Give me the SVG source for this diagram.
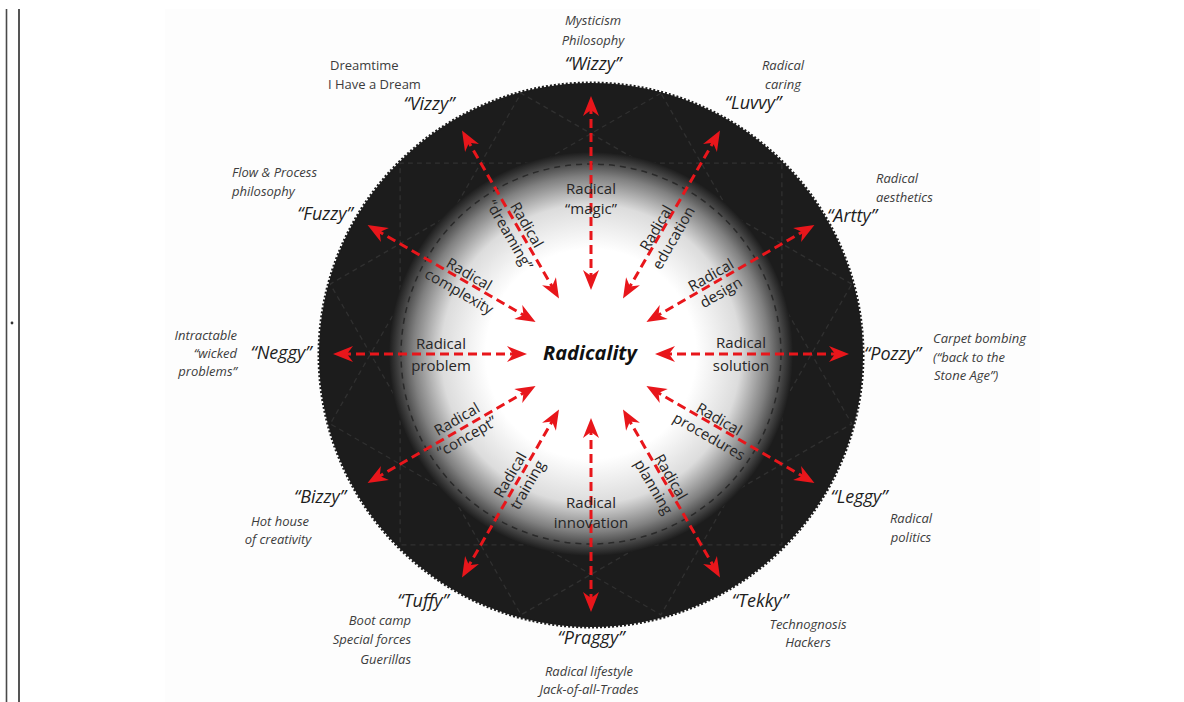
<svg xmlns="http://www.w3.org/2000/svg" width="1184" height="702" viewBox="0 0 1184 702">
<style>
text{font-family:"Open Sans","Liberation Sans",sans-serif}
.nm{font-style:italic;font-size:18px;fill:#1e1e1e}
.ds{font-style:italic;font-size:13px;fill:#3c3c3c}
.du{font-size:13px;fill:#3c3c3c}
.in{font-size:15px;fill:#262626;text-anchor:middle}
.ctr{font-style:italic;font-weight:bold;font-size:20px;fill:#111;text-anchor:middle}
.mid{text-anchor:middle}
.end{text-anchor:end}
.arr{stroke:#e8161b;stroke-width:3;stroke-dasharray:9 5;fill:none;marker-start:url(#ah);marker-end:url(#ah)}
.star{stroke:#303030;stroke-width:1.3;stroke-dasharray:5 4;fill:none}
</style>
<defs>
<radialGradient id="glow" gradientUnits="userSpaceOnUse" cx="591" cy="354" r="202">
<stop offset="0" stop-color="#ffffff"/>
<stop offset="0.52" stop-color="#ffffff"/>
<stop offset="0.74" stop-color="#dcdcdc"/>
<stop offset="0.88" stop-color="#808080"/>
<stop offset="1" stop-color="#1c1c1c"/>
</radialGradient>
<marker id="ah" markerUnits="userSpaceOnUse" viewBox="-22 -9 24 18" markerWidth="24" markerHeight="18" refX="-8" refY="0" orient="auto-start-reverse">
<path d="M0,0 L-20,-8 L-14,0 L-20,8 Z" fill="#e8161b"/>
</marker>
</defs>
<rect x="0" y="0" width="1184" height="702" fill="#ffffff"/>
<rect x="165" y="9" width="875" height="693" fill="#fdfdfd"/>
<g id="frame">
<line x1="6.5" y1="9" x2="6.5" y2="702" stroke="#4a4a4a" stroke-width="1.6"/>
<line x1="19" y1="9" x2="19" y2="702" stroke="#555" stroke-width="2"/>
<circle cx="12" cy="323" r="1.4" fill="#333"/>
</g>
<g id="ring">
<circle cx="591" cy="355" r="272" fill="#1c1c1c" stroke="#1c1c1c" stroke-width="3" stroke-dasharray="2 2"/>
<path class="star" d="M851.8,284.1 L521.1,93.2 L330.2,423.9 L660.9,614.8 Z M781.9,163.1 L400.1,163.1 L400.1,544.9 L781.9,544.9 Z M660.9,93.2 L330.2,284.1 L521.1,614.8 L851.8,423.9 Z"/>
<circle cx="591" cy="354" r="202" fill="url(#glow)"/>
<circle cx="591" cy="354" r="190" fill="none" stroke="#2a2a2a" stroke-width="1.5" stroke-dasharray="6 5"/>
</g>
<g id="connectors">
<line class="arr" x1="591" y1="282" x2="591" y2="104"/>
<line class="arr" x1="627" y1="291.6" x2="716" y2="137.5"/>
<line class="arr" x1="653.35" y1="318" x2="807.5" y2="229"/>
<line class="arr" x1="663" y1="354" x2="841" y2="354"/>
<line class="arr" x1="653.35" y1="390" x2="807.5" y2="479"/>
<line class="arr" x1="627" y1="416.35" x2="716" y2="570.5"/>
<line class="arr" x1="591" y1="426" x2="591" y2="604"/>
<line class="arr" x1="555" y1="416.35" x2="466" y2="570.5"/>
<line class="arr" x1="528.65" y1="390" x2="374.5" y2="479"/>
<line class="arr" x1="519" y1="354" x2="341" y2="354"/>
<line class="arr" x1="528.65" y1="318" x2="374.5" y2="229"/>
<line class="arr" x1="555" y1="291.6" x2="466" y2="137.5"/>
</g>
<g id="center"><text class="ctr" x="590" y="360">Radicality</text></g>
<g id="inner-labels">
<g id="in-magic"><text class="in" x="591" y="194">Radical</text><text class="in" x="591" y="214">“magic”</text></g>
<g id="in-dreaming" transform="translate(518,230) rotate(60)"><text class="in" x="0" y="-5">Radical</text><text class="in" x="0" y="15">“dreaming”</text></g>
<g id="in-complexity" transform="translate(464,283) rotate(30)"><text class="in" x="0" y="-5">Radical</text><text class="in" x="0" y="15">complexity</text></g>
<g id="in-problem"><text class="in" x="441" y="349">Radical</text><text class="in" x="441" y="371">problem</text></g>
<g id="in-concept" transform="translate(462,428) rotate(-30)"><text class="in" x="0" y="-5">Radical</text><text class="in" x="0" y="15">“concept”</text></g>
<g id="in-training" transform="translate(519,480) rotate(-60)"><text class="in" x="0" y="-5">Radical</text><text class="in" x="0" y="15">training</text></g>
<g id="in-innovation"><text class="in" x="591" y="508">Radical</text><text class="in" x="591" y="528">innovation</text></g>
<g id="in-planning" transform="translate(662,482) rotate(60)"><text class="in" x="0" y="-5">Radical</text><text class="in" x="0" y="15">planning</text></g>
<g id="in-procedures" transform="translate(714,428) rotate(30)"><text class="in" x="0" y="-5">Radical</text><text class="in" x="0" y="15">procedures</text></g>
<g id="in-solution"><text class="in" x="741" y="348">Radical</text><text class="in" x="741" y="371">solution</text></g>
<g id="in-design" transform="translate(716,284) rotate(-30)"><text class="in" x="0" y="-5">Radical</text><text class="in" x="0" y="15">design</text></g>
<g id="in-education" transform="translate(665,233) rotate(-60)"><text class="in" x="0" y="-5">Radical</text><text class="in" x="0" y="15">education</text></g>
</g>
<g id="wizzy"><text class="ds mid" x="593" y="25">Mysticism</text><text class="ds mid" x="593" y="45">Philosophy</text><text class="nm mid" x="593" y="70">“Wizzy”</text></g>
<g id="vizzy"><text class="du" x="330" y="70">Dreamtime</text><text class="du" x="328" y="89">I Have a Dream</text><text class="nm mid" x="429" y="110">“Vizzy”</text></g>
<g id="luvvy"><text class="ds mid" x="783" y="70">Radical</text><text class="ds mid" x="783" y="89">caring</text><text class="nm mid" x="753" y="109">“Luvvy”</text></g>
<g id="fuzzy"><text class="ds" x="232" y="177">Flow &amp; Process</text><text class="ds" x="232" y="196">philosophy</text><text class="nm mid" x="325" y="220">“Fuzzy”</text></g>
<g id="artty"><text class="ds" x="876" y="183">Radical</text><text class="ds" x="876" y="202">aesthetics</text><text class="nm mid" x="852" y="222">“Artty”</text></g>
<g id="neggy"><text class="ds end" x="237" y="340">Intractable</text><text class="ds end" x="237" y="358">“wicked</text><text class="ds end" x="237" y="376">problems”</text><text class="nm mid" x="281" y="359">“Neggy”</text></g>
<g id="pozzy"><text class="nm" x="864" y="360">“Pozzy”</text><text class="ds" x="933" y="343">Carpet bombing</text><text class="ds" x="933" y="362">(“back to the</text><text class="ds" x="934" y="380">Stone Age”)</text></g>
<g id="bizzy"><text class="nm mid" x="320" y="503">“Bizzy”</text><text class="ds mid" x="280" y="526">Hot house</text><text class="ds mid" x="278" y="544">of creativity</text></g>
<g id="leggy"><text class="nm mid" x="859" y="503">“Leggy”</text><text class="ds mid" x="911" y="523">Radical</text><text class="ds mid" x="911" y="542">politics</text></g>
<g id="tuffy"><text class="nm mid" x="423" y="607">“Tuffy”</text><text class="ds end" x="411" y="625">Boot camp</text><text class="ds end" x="411" y="644">Special forces</text><text class="ds end" x="411" y="664">Guerillas</text></g>
<g id="tekky"><text class="nm mid" x="760" y="607">“Tekky”</text><text class="ds mid" x="808" y="629">Technognosis</text><text class="ds mid" x="808" y="647">Hackers</text></g>
<g id="praggy"><text class="nm mid" x="591" y="644">“Praggy”</text><text class="ds mid" x="589" y="676">Radical lifestyle</text><text class="ds mid" x="589" y="694">Jack-of-all-Trades</text></g>
</svg>
